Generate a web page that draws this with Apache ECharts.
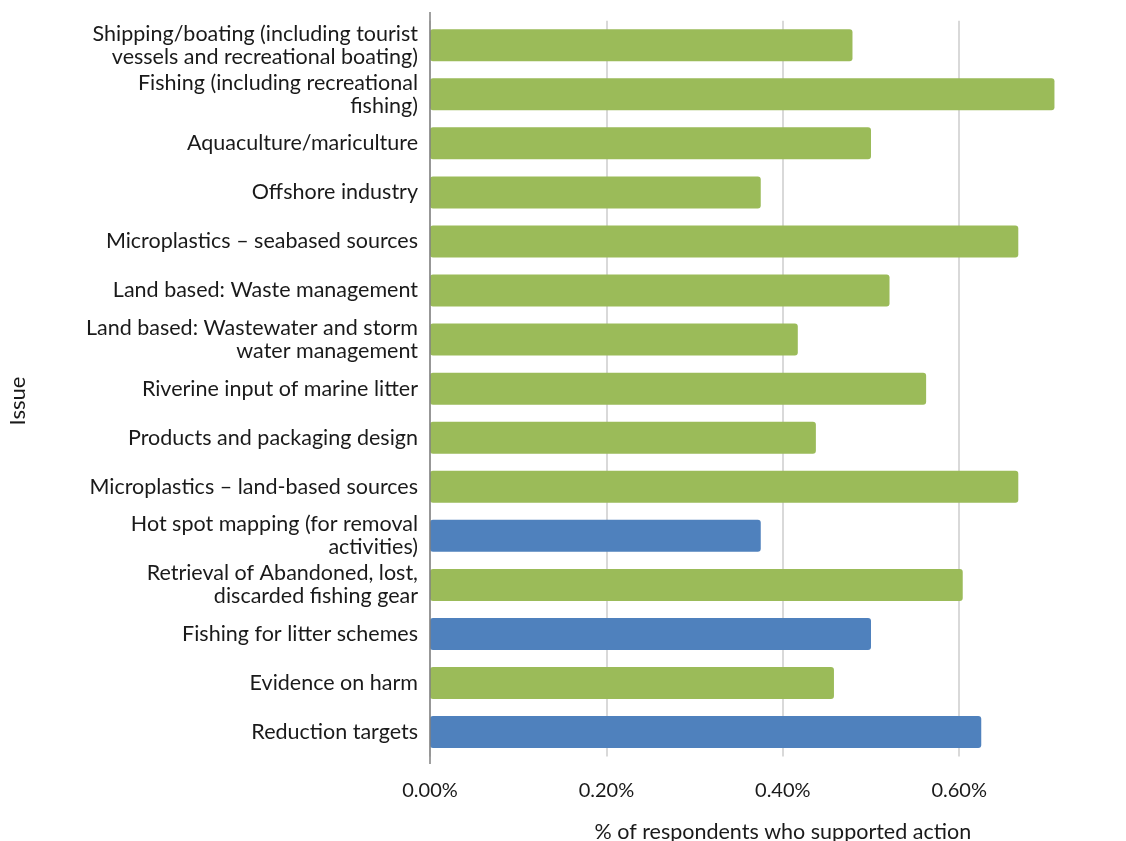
<!DOCTYPE html>
<html>
<head>
<meta charset="utf-8">
<script src="https://cdn.jsdelivr.net/npm/echarts@6/dist/echarts.min.js"></script>
<style>
html,body{margin:0;padding:0;background:#fff;}
#chart{width:1126px;height:841px;}
</style>
</head>
<body>
<div id="chart"></div>
<script>
const categories = [
  "Shipping/boating (including tourist\nvessels and recreational boating)",
  "Fishing (including recreational\nfishing)",
  "Aquaculture/mariculture",
  "Offshore industry",
  "Microplastics \u2013 seabased sources",
  "Land based: Waste management",
  "Land based: Wastewater and storm\nwater management",
  "Riverine input of marine litter",
  "Products and packaging design",
  "Microplastics \u2013 land-based sources",
  "Hot spot mapping (for removal\nactivities)",
  "Retrieval of Abandoned, lost,\ndiscarded fishing gear",
  "Fishing for litter schemes",
  "Evidence on harm",
  "Reduction targets"
];
const supportPct = [0.479, 0.708, 0.5, 0.375, 0.667, 0.521, 0.417, 0.5625, 0.4375, 0.667, 0.375, 0.604, 0.5, 0.458, 0.625];
const highlighted = [false, false, false, false, false, false, false, false, false, false, true, false, true, false, true];
const xTicks = [0, 0.2, 0.4, 0.6];
const xMax = 0.8;

const GREEN = '#9BBB59', BLUE = '#4F81BD';
const FONT = 'Lato';

const chart = echarts.init(document.getElementById('chart'), null, {renderer: 'canvas'});
chart.setOption({
  backgroundColor: '#fff',
  animation: false,
  textStyle: {fontFamily: FONT},
  grid: {left: 430, width: 705.6, top: 20.7, height: 735.9, containLabel: false, outerBoundsMode: 'none'},
  xAxis: {
    type: 'value', min: 0, max: xMax, interval: 0.2,
    name: '% of respondents who supported action',
    nameLocation: 'middle', nameGap: 64,
    nameTextStyle: {fontSize: 21.5, color: '#1a1a1a', fontFamily: FONT},
    axisLine: {show: false}, axisTick: {show: false},
    axisLabel: {
      fontSize: 20, color: '#1a1a1a', margin: 24, fontFamily: FONT,
      showMaxLabel: false,
      formatter: v => xTicks.some(t => Math.abs(t - v) < 1e-9) ? v.toFixed(2) + '%' : ''
    },
    splitLine: {show: true, lineStyle: {color: '#d9d9d9', width: 2}}
  },
  yAxis: {
    type: 'category', data: categories, inverse: true,
    axisLine: {show: false}, axisTick: {show: false},
    axisLabel: {fontSize: 21.5, color: '#1a1a1a', margin: 12, lineHeight: 23, align: 'right', fontFamily: FONT}
  },
  graphic: [
    {type: 'line', shape: {x1: 430, y1: 12, x2: 430, y2: 764}, style: {stroke: '#808080', lineWidth: 1.5}, z: 10},
    {type: 'text', x: 18, y: 401, rotation: Math.PI / 2,
     style: {text: 'Issue', fontSize: 22, fill: '#1a1a1a', fontFamily: FONT, align: 'center', verticalAlign: 'middle'}}
  ],
  series: [{
    type: 'bar', barWidth: 32,
    data: supportPct.map((v, i) => ({
      value: v,
      itemStyle: {color: highlighted[i] ? BLUE : GREEN, borderRadius: 3}
    }))
  }]
});
</script>
</body>
</html>
